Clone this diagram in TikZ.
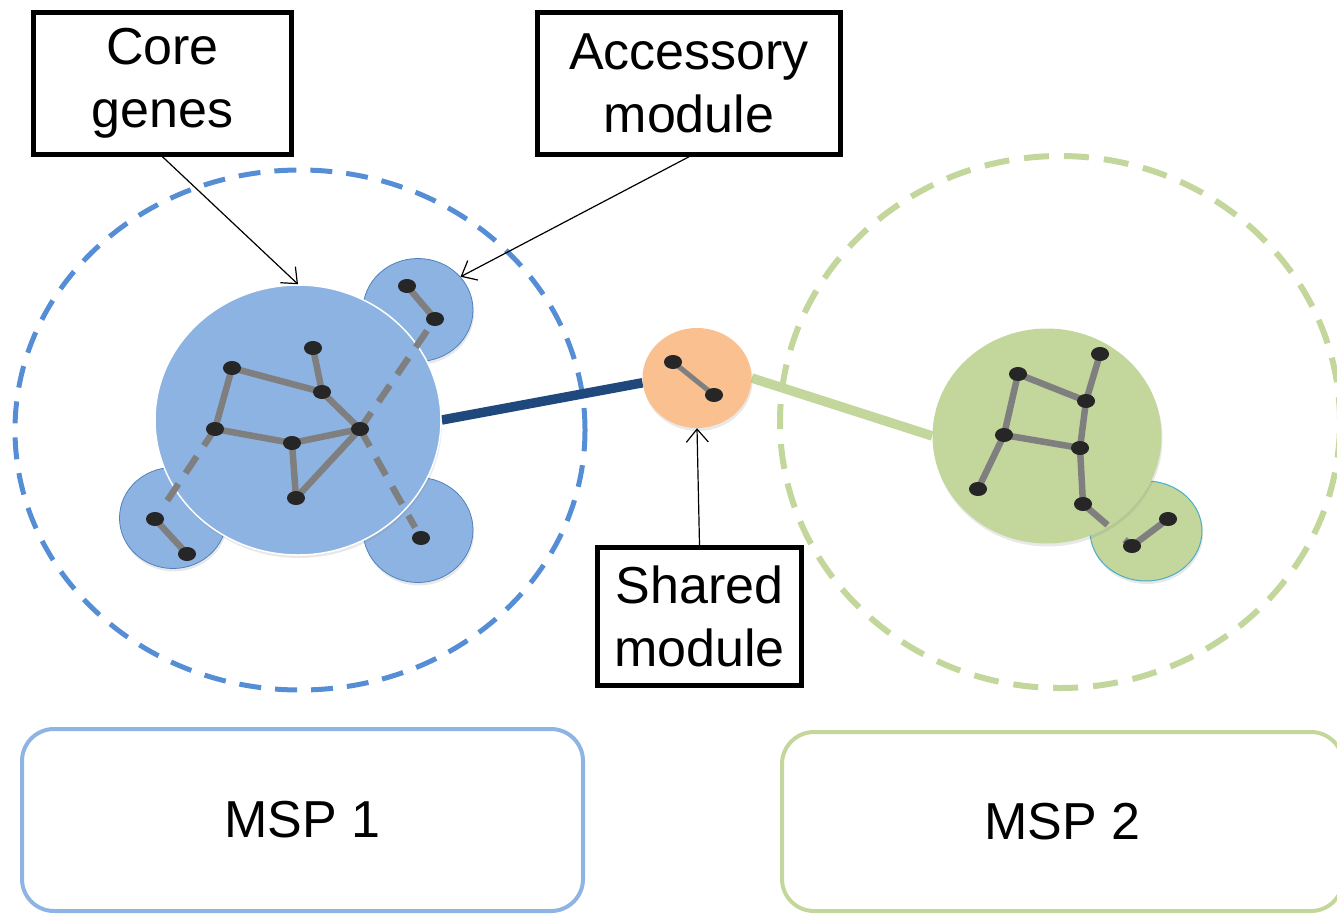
\documentclass[tikz,border=0pt]{standalone}
\usepackage{fontspec}
\setmainfont{Liberation Sans}
\usetikzlibrary{shapes.geometric,arrows.meta,calc,shadows}

\definecolor{blobblue}{HTML}{8DB3E2}
\definecolor{rimblue}{HTML}{4F81BD}
\definecolor{hullblue}{HTML}{558ED5}
\definecolor{linkblue}{HTML}{1F497D}
\definecolor{blobgreen}{HTML}{C3D69B}
\definecolor{rimteal}{HTML}{4BACC6}
\definecolor{bloborange}{HTML}{FAC090}
\definecolor{edgegrey}{HTML}{7F7F7F}
\definecolor{dotblack}{HTML}{262626}
\definecolor{mspblue}{HTML}{8EB4E3}

\pgfdeclarelayer{back}
\pgfsetlayers{back,main}

\begin{document}
\begin{tikzpicture}[x=1pt,y=-1pt,
  hull/.style={ellipse, inner sep=0pt, line width=5pt, dash pattern=on 22pt off 14pt},
  blob/.style={ellipse, inner sep=0pt, drop shadow={shadow xshift=1pt, shadow yshift=-3pt, opacity=0.18}},
  genedot/.style={ellipse, fill=dotblack, inner sep=0pt, minimum width=17pt, minimum height=13pt},
  edge/.style={draw=edgegrey, line width=6.5pt},
  dashedge/.style={edge, dash pattern=on 20pt off 13pt},
  labelbox/.style={draw=black, line width=4.5pt, font=\fontsize{52}{63}\selectfont, align=center, inner sep=0pt},
  pointer/.style={draw=black, line width=1.2pt, -{Straight Barb[length=13pt,width=22pt,line width=1.2pt]}},
  mspbox/.style={draw, rounded corners=32pt, line width=4pt, font=\fontsize{52}{63}\selectfont, inner sep=0pt, minimum width=561pt},
  link/.style={line width=9.5pt},
]
\useasboundingbox (0,0) rectangle (1337,918);

% ---- outer hulls of the two MSPs ----
\begin{pgfonlayer}{back}
  \node[hull, draw=hullblue, minimum width=570pt, minimum height=520pt] (hull1) at (300,430) {};
  \node[hull, draw=blobgreen, line width=6pt, dash pattern=on 25pt off 15pt, minimum width=560pt, minimum height=532pt] (hull2) at (1060,422) {};
\end{pgfonlayer}

% ---- MSP 1: accessory modules behind the core ----
\node[blob, fill=blobblue, draw=rimblue, line width=0.8pt, minimum width=110pt, minimum height=103pt] (acc1) at (418,310) {};
\node[blob, fill=blobblue, draw=rimblue, line width=0.8pt, minimum width=107pt, minimum height=101pt] (acc2) at (173,518) {};
\node[blob, fill=blobblue, draw=rimblue, line width=0.8pt, minimum width=110pt, minimum height=105pt] (acc3) at (418,530) {};
\node[blob, fill=blobblue, draw=white, line width=1.5pt, minimum width=286pt, minimum height=270pt] (core) at (298,420) {};

% ---- shared module ----
\node[blob, fill=bloborange, minimum width=109pt, minimum height=100pt] (shared) at (697,378) {};

% ---- MSP 2 ----
\node[blob, fill=blobgreen, draw=rimteal, line width=1pt, minimum width=112pt, minimum height=100pt] (acc4) at (1146,531) {};
\node[blob, fill=blobgreen, minimum width=229pt, minimum height=215pt] (core2) at (1047,436) {};

% ---- links between modules ----
\begin{pgfonlayer}{back}
  \draw[link, draw=linkblue] (core.east) -- (shared.185);
  \draw[link, draw=blobgreen] (shared.east) -- (core2.west);
\end{pgfonlayer}

% ---- genes of MSP 1 ----
\node[genedot] (a) at (232,368) {};
\node[genedot] (b) at (313,348) {};
\node[genedot] (c) at (322,392) {};
\node[genedot] (d) at (215,429) {};
\node[genedot] (e) at (292,443) {};
\node[genedot] (f) at (360,429) {};
\node[genedot] (g) at (296,498) {};
\node[genedot] (t1) at (407,286) {};
\node[genedot] (t2) at (435,319) {};
\node[genedot] (l1) at (155,519) {};
\node[genedot] (l2) at (187,554) {};
\node[genedot] (r1) at (421,538) {};

\path[edge] (a.center) -- (c.center) (b.center) -- (c.center) (a.center) -- (d.center)
  (d.center) -- (e.center) (e.center) -- (f.center) (c.center) -- (f.center)
  (e.center) -- (g.center) (g.center) -- (f.center)
  (t1.center) -- (t2.center) (l1.center) -- (l2.center);
\path[dashedge, shorten >=14pt] (f.center) -- (t2.center);
\path[dashedge, shorten >=12pt] (d.center) -- (l1.center);
\path[dashedge, shorten >=12pt] (f.center) -- (r1.center);

% ---- genes of the shared module ----
\node[genedot] (s1) at (673,362) {};
\node[genedot] (s2) at (714,395) {};
\path[edge, line width=5pt] (s1.center) -- (s2.center);

% ---- genes of MSP 2 ----
\node[genedot] (g1) at (1100,354) {};
\node[genedot] (g2) at (1018,374) {};
\node[genedot] (g3) at (1086,401) {};
\node[genedot] (g4) at (1004,435) {};
\node[genedot] (g5) at (1080,448) {};
\node[genedot] (g6) at (978,489) {};
\node[genedot] (g7) at (1083,504) {};
\node[genedot] (g8) at (1132,546) {};
\node[genedot] (g9) at (1168,519) {};
\path[edge] (g2.center) -- (g3.center) (g1.center) -- (g3.center) (g2.center) -- (g4.center)
  (g4.center) -- (g5.center) (g3.center) -- (g5.center) (g4.center) -- (g6.center)
  (g5.center) -- (g7.center) (g8.center) -- (g9.center);
\path[edge] (g7.center) -- ($(g7.center)!0.5!(g8.center)$);
\path[edge] ($(g7.center)!0.85!(g8.center)$) -- (g8.center);

% redraw the dots above the edges
\foreach \n in {a,b,c,d,e,f,g,t1,t2,l1,l2,r1,s1,s2,g1,g2,g3,g4,g5,g6,g7,g8,g9}
  \fill[dotblack] (\n.center) ellipse [x radius=9pt, y radius=7pt];

% ---- labels ----
\node[labelbox, minimum width=258pt, minimum height=142pt] (corelabel) at (162.5,83.5) {Core\\genes};
\node[labelbox, minimum width=303pt, minimum height=142pt] (acclabel) at (689,83.5) {Accessory\\module};
\node[labelbox, minimum width=204pt, minimum height=138pt] (sharedlabel) at (699.5,616.5) {Shared\\module};

\draw[pointer] (corelabel.south) -- (core.north);
\draw[pointer] (acclabel.south) -- (acc1.38);
\draw[pointer] (sharedlabel.north) -- (shared.south);

% ---- MSP boxes ----
\node[mspbox, draw=mspblue, minimum height=182pt] (msp1) at (302.5,820) {MSP 1};
\node[mspbox, draw=blobgreen, minimum height=179pt] (msp2) at (1062.5,821.5) {MSP 2};
\end{tikzpicture}
\end{document}
